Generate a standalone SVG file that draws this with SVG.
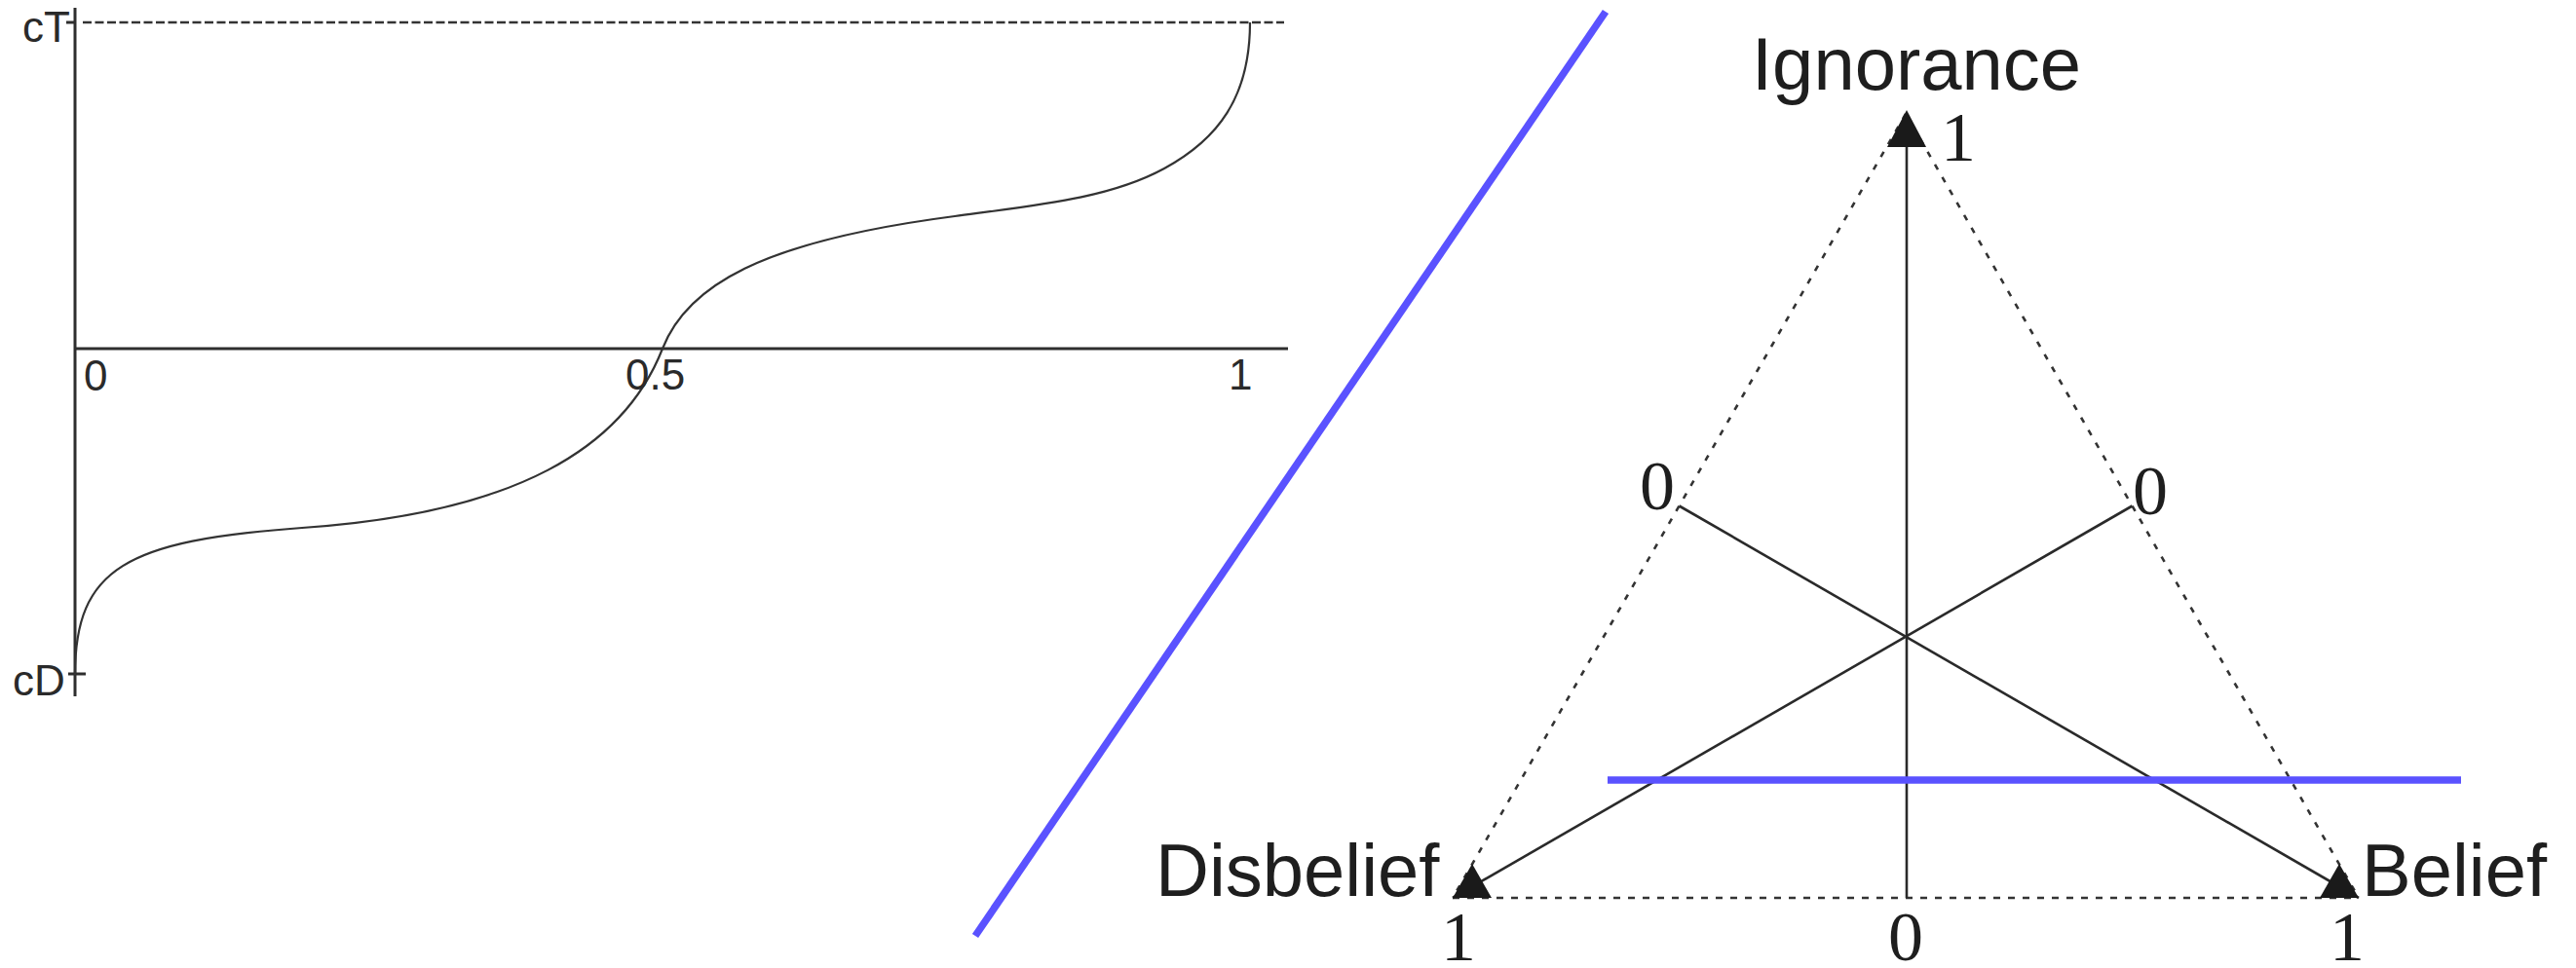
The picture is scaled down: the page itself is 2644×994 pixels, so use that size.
<svg xmlns="http://www.w3.org/2000/svg" width="2644" height="994" viewBox="0 0 2644 994">
<style>
.ax{stroke:#2e2e2e;stroke-width:3;fill:none}
.crv{stroke:#333;stroke-width:2.2;fill:none}
.dash{stroke:#333;stroke-width:2.6;stroke-dasharray:9 3.5;fill:none}
.lbl{font-family:"Liberation Sans",Arial,sans-serif;font-size:44px;fill:#2a2a2a}
.big{font-family:"Liberation Sans",Arial,sans-serif;font-size:76px;fill:#1e1e1e}
.num{font-family:"Liberation Serif","Times New Roman",serif;font-size:72px;fill:#1e1e1e;text-anchor:middle}
.edge{stroke:#333;stroke-width:2.6;stroke-dasharray:6 9;fill:none}
.base{stroke:#333;stroke-width:2.6;stroke-dasharray:7 8;fill:none}
.solid{stroke:#2a2a2a;stroke-width:2.6;fill:none}
.blue{stroke:#5a52ff;stroke-width:7.5;fill:none}
.mk{fill:#1a1a1a}
</style>
<rect width="2644" height="994" fill="#fff"/>
<g id="left-plot">
  <line class="ax" x1="77" y1="8" x2="77" y2="715"/>
  <line class="ax" x1="77" y1="358" x2="1322" y2="358"/>
  <line class="ax" x1="68" y1="23" x2="77" y2="23"/>
  <line class="ax" x1="70" y1="692" x2="88" y2="692"/>
  <line class="dash" x1="85" y1="23" x2="1318" y2="23"/>
  <path class="crv" d="M77,693 C77,583 130,555 310,542 C530,527 640,460 680,358 C705,294 780,248 980,222 C1070,210 1140,203 1195,173 C1250,143 1283,100 1283,23"/>
  <text class="lbl" x="23" y="43">cT</text>
  <text class="lbl" x="13" y="714">cD</text>
  <text class="lbl" x="86" y="401">0</text>
  <text class="lbl" x="642" y="400">0.5</text>
  <text class="lbl" x="1261" y="400">1</text>
</g>
<g id="divider">
  <line class="blue" x1="1648" y1="12" x2="1001" y2="961"/>
</g>
<g id="triangle">
  <line class="edge" x1="1956" y1="117" x2="1491" y2="922"/>
  <line class="edge" x1="1956" y1="117" x2="2421" y2="922"/>
  <line class="base" x1="1491" y1="922" x2="2421" y2="922"/>
</g>
<g id="connectors">
  <line class="solid" x1="1957" y1="130" x2="1957" y2="922"/>
  <line class="solid" x1="1723.5" y1="519.5" x2="2421" y2="922"/>
  <line class="solid" x1="2188.5" y1="519.5" x2="1491" y2="922"/>
</g>
<g id="threshold">
  <line class="blue" x1="1650" y1="801" x2="2526" y2="801"/>
</g>
<g id="vertex-ignorance">
  <polygon class="mk" points="1957,113 1937,151 1977,151"/>
  <text class="big" x="1798" y="92">Ignorance</text>
  <text class="num" x="2010" y="165">1</text>
</g>
<g id="vertex-disbelief">
  <polygon class="mk" points="1491,922 1531,922 1511,887"/>
  <text class="big" x="1186" y="920">Disbelief</text>
  <text class="num" x="1497" y="986">1</text>
</g>
<g id="vertex-belief">
  <polygon class="mk" points="2381,922 2421,922 2401,887"/>
  <text class="big" x="2424" y="920">Belief</text>
  <text class="num" x="2409" y="986">1</text>
</g>
<g id="scale-labels">
  <text class="num" x="1701" y="523">0</text>
  <text class="num" x="2207" y="528">0</text>
  <text class="num" x="1956" y="986">0</text>
</g>
</svg>
